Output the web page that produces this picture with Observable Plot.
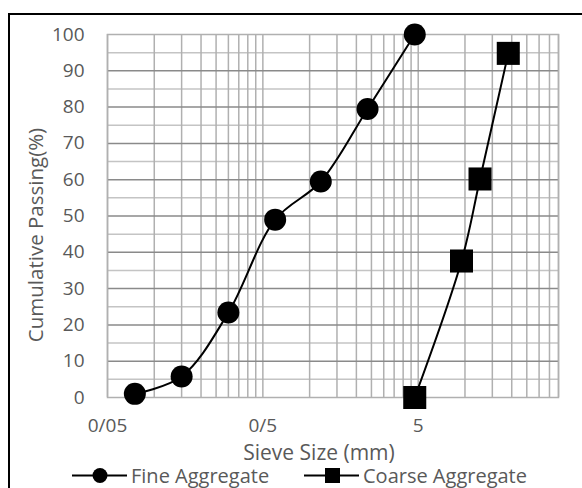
<!DOCTYPE html>
<html>
<head>
<meta charset="utf-8">
<script src="https://cdn.jsdelivr.net/npm/d3@7"></script>
<script src="https://cdn.jsdelivr.net/npm/@observablehq/plot@0.6"></script>
<style>
  html, body { margin: 0; padding: 0; background: #fff; }
  #wrap { position: relative; width: 582px; height: 488px; overflow: hidden; font-family: "Open Sans", sans-serif; }
  #border { position: absolute; left: 8px; top: 13px; width: 600px; height: 600px; border-left: 2px solid #000; border-top: 2px solid #000; pointer-events: none; }
  #legend { position: absolute; left: 0; top: 463px; width: 582px; height: 25px; }
  #legend .item { position: absolute; top: 0; height: 25px; line-height: 25px; display: flex; align-items: center; color: #595959; font-size: 20px; white-space: nowrap; }
</style>
</head>
<body>
<div id="wrap">
  <div id="chart"></div>
  <div id="legend"></div>
  <div id="border"></div>
</div>
<script>
// Data
const fineSize = [0.075, 0.15, 0.3, 0.6, 1.18, 2.36, 4.75];
const finePassing = [1, 5.8, 23.4, 49, 59.5, 79.5, 100];
const coarseSize = [4.75, 9.5, 12.5, 19];
const coarsePassing = [0, 37.6, 60.2, 94.8];

const xTicks = [0.05, 0.5, 5];
const xTickLabels = ["0/05", "0/5", "5"];
const yTicks = [0, 10, 20, 30, 40, 50, 60, 70, 80, 90, 100];
const xGrid = [0.05, 0.1, 0.15, 0.2, 0.25, 0.3, 0.35, 0.4, 0.45, 0.5,
               1, 1.5, 2, 2.5, 3, 3.5, 4, 4.5, 5,
               10, 15, 20, 25, 30, 35, 40];
const yGridMajor = [10, 20, 30, 40, 50, 60, 70, 80, 90];
const yGridMinor = [5, 15, 25, 35, 45, 55, 65, 75, 85, 95];

const seriesNames = ["Fine Aggregate", "Coarse Aggregate"];
const xLabel = "Sieve Size (mm)";
const yLabel = "Cumulative Passing(%)";

const fine = fineSize.map((s, i) => ({size: s, pass: finePassing[i]}));
const coarse = coarseSize.map((s, i) => ({size: s, pass: coarsePassing[i]}));
const xTickData = xTicks.map((v, i) => ({v, label: xTickLabels[i]}));

const textColor = "#595959";

const chart = Plot.plot({
  width: 582,
  height: 460,
  marginLeft: 107,
  marginRight: 24,
  marginTop: 34,
  marginBottom: 63,
  style: {fontFamily: "Open Sans, sans-serif", fontSize: "19px", color: textColor, background: "#fff", overflow: "visible"},
  x: {type: "log", domain: [0.05, 40], axis: null},
  y: {domain: [0, 100]},
  marks: [
    Plot.ruleY(yGridMinor, {stroke: "#c4c4c4", strokeWidth: 1.5}),
    Plot.ruleX(xGrid, {stroke: "#b0b0b0", strokeWidth: 1.5}),
    Plot.ruleY(yGridMajor, {stroke: "#8a8a8a", strokeWidth: 1.5}),
    Plot.frame({stroke: "#b0b0b0", strokeWidth: 1.5}),
    Plot.text(xTickData, {x: "v", text: "label", frameAnchor: "bottom", lineAnchor: "middle", textAnchor: "middle", dy: 28, fill: textColor, fontSize: 19}),
    Plot.axisY(yTicks, {tickSize: 0, tickPadding: 23, label: null, fill: textColor, fontSize: 19}),
    Plot.text([yLabel], {frameAnchor: "left", textAnchor: "middle", lineAnchor: "middle", dx: -71, dy: 19, rotate: -90, fill: textColor, fontSize: 20.5}),
    Plot.text([xLabel], {frameAnchor: "bottom", textAnchor: "middle", lineAnchor: "middle", dx: -14, dy: 56, fill: textColor, fontSize: 21}),
    Plot.line(fine, {x: "size", y: "pass", stroke: "#000", strokeWidth: 2, curve: "catmull-rom"}),
    Plot.line(coarse, {x: "size", y: "pass", stroke: "#000", strokeWidth: 2, curve: "catmull-rom"}),
    Plot.dot(fine, {x: "size", y: "pass", r: 11, fill: "#000", symbol: "circle"}),
    Plot.dot(coarse, {x: "size", y: "pass", r: 13, fill: "#000", symbol: "square"})
  ]
});
document.getElementById("chart").appendChild(chart);

// Legend
const legend = document.getElementById("legend");
const legendItems = [
  {name: seriesNames[0], left: 72, symbol: "circle"},
  {name: seriesNames[1], left: 304, symbol: "square"}
];
for (const it of legendItems) {
  const div = document.createElement("div");
  div.className = "item";
  div.style.left = it.left + "px";
  const marker = it.symbol === "circle"
    ? '<circle cx="28" cy="12.5" r="7.5" fill="#000"/>'
    : '<rect x="21" y="5" width="15" height="15" fill="#000"/>';
  div.innerHTML = '<svg width="56" height="25"><line x1="0" x2="55" y1="12.5" y2="12.5" stroke="#000" stroke-width="2"/>' + marker + '</svg><span style="margin-left:3px">' + it.name + '</span>';
  legend.appendChild(div);
}
</script>
</body>
</html>
